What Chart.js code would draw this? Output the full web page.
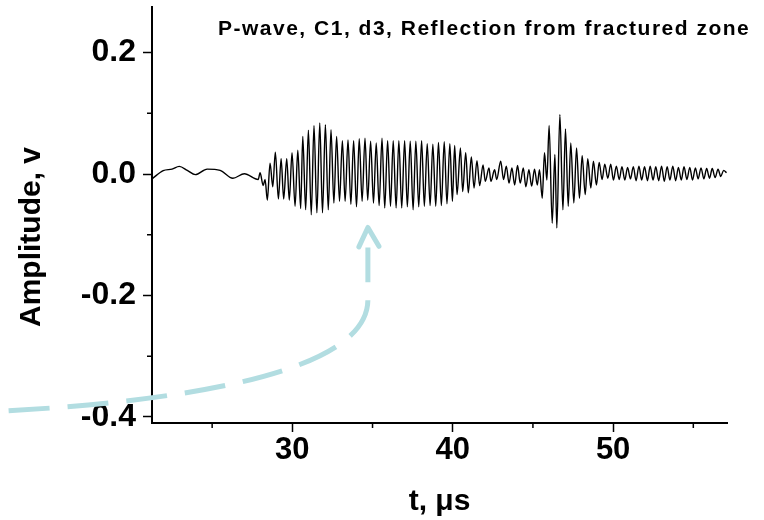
<!DOCTYPE html>
<html>
<head>
<meta charset="utf-8">
<script src="https://cdn.jsdelivr.net/npm/chart.js@4.4.1/dist/chart.umd.min.js"></script>
<style>
  html, body { margin: 0; padding: 0; background: #fff; }
  #wave { display: block; }
</style>
</head>
<body>
<canvas id="wave" width="764" height="520"></canvas>
<script>
// time in microseconds (peaks and troughs)
var timeUs = [
  21.25, 21.95, 22.50, 22.95, 23.45, 23.95, 24.69, 25.50, 26.29, 27.01,
  27.87, 27.99, 28.18, 28.30, 28.44, 28.61, 28.78, 28.94, 29.13, 29.30,
  29.46, 29.65, 29.81, 29.98, 30.17, 30.34, 30.52, 30.65, 30.83, 31.00,
  31.18, 31.35, 31.53, 31.71, 31.88, 32.06, 32.24, 32.41, 32.59, 32.76,
  32.94, 33.12, 33.29, 33.47, 33.65, 33.82, 34.00, 34.17, 34.35, 34.53,
  34.70, 34.88, 35.06, 35.23, 35.41, 35.59, 35.76, 35.94, 36.12, 36.29,
  36.47, 36.64, 36.82, 37.00, 37.17, 37.35, 37.53, 37.70, 37.88, 38.06,
  38.23, 38.41, 38.59, 38.76, 38.94, 39.11, 39.29, 39.47, 39.64, 39.82,
  39.98, 40.12, 40.27, 40.48, 40.62, 40.81, 40.97, 41.16, 41.33, 41.51,
  41.68, 41.89, 42.03, 42.26, 42.38, 42.61, 42.74, 42.99, 43.17, 43.34,
  43.51, 43.69, 43.86, 44.04, 44.21, 44.40, 44.56, 44.75, 44.92, 45.10,
  45.27, 45.41, 45.58, 45.72, 45.87, 46.01, 46.20, 46.37, 46.49, 46.68,
  46.87, 47.03, 47.20, 47.36, 47.55, 47.72, 47.90, 48.07, 48.26, 48.42,
  48.61, 48.77, 48.96, 49.13, 49.31, 49.48, 49.67, 49.85, 50.02, 50.20,
  50.38, 50.55, 50.73, 50.90, 51.08, 51.26, 51.43, 51.61, 51.78, 51.96,
  52.14, 52.31, 52.49, 52.66, 52.84, 53.02, 53.19, 53.37, 53.54, 53.72,
  53.90, 54.07, 54.25, 54.42, 54.60, 54.78, 54.95, 55.13, 55.30, 55.48,
  55.66, 55.83, 56.01, 56.18, 56.36, 56.54, 56.71, 56.89, 57.07
];
// amplitude in volts
var amplitudeV = [
  -0.008, 0.0055, 0.008, 0.0125, 0.006, -0.001, 0.008, 0.006, -0.007, 0.0005,
  -0.009, 0.002, -0.019, -0.009, -0.043, 0.018, -0.021, 0.036, -0.041, 0.025,
  -0.041, 0.025, -0.043, 0.035, -0.053, 0.039, -0.057, 0.062, -0.059, 0.072,
  -0.067, 0.080, -0.064, 0.084, -0.064, 0.081, -0.059, 0.073, -0.048, 0.062,
  -0.045, 0.055, -0.045, 0.056, -0.050, 0.055, -0.054, 0.058, -0.045, 0.059,
  -0.043, 0.054, -0.048, 0.051, -0.052, 0.059, -0.056, 0.055, -0.053, 0.055,
  -0.056, 0.055, -0.056, 0.055, -0.054, 0.054, -0.059, 0.054, -0.054, 0.055,
  -0.053, 0.050, -0.052, 0.049, -0.053, 0.052, -0.052, 0.053, -0.049, 0.050,
  -0.045, 0.047, -0.034, 0.043, -0.029, 0.035, -0.031, 0.028, -0.023, 0.022,
  -0.019, 0.015, -0.012, 0.010, -0.012, 0.007, -0.009, 0.021, -0.009, 0.013,
  -0.015, 0.010, -0.018, 0.014, -0.015, 0.010, -0.021, 0.007, -0.020, 0.008,
  -0.018, 0.007, -0.040, 0.035, -0.010, 0.080, -0.081, 0.032, -0.089, 0.098,
  -0.059, 0.074, -0.053, 0.051, -0.048, 0.043, -0.040, 0.030, -0.034, 0.025,
  -0.023, 0.021, -0.018, 0.019, -0.009, 0.016, -0.007, 0.016, -0.010, 0.013,
  -0.009, 0.012, -0.010, 0.011, -0.008, 0.012, -0.011, 0.013, -0.010, 0.012,
  -0.011, 0.013, -0.010, 0.012, -0.011, 0.013, -0.012, 0.012, -0.010, 0.013,
  -0.011, 0.011, -0.010, 0.012, -0.009, 0.011, -0.010, 0.010, -0.008, 0.010,
  -0.008, 0.009, -0.007, 0.009, -0.006, 0.008, -0.004, 0.006, 0.002
];

var xMajorTicks = [30, 40, 50];
var xMinorTicks = [25, 35, 45, 55];
var yMajorTicks = [-0.4, -0.2, 0, 0.2];
var yMinorTicks = [-0.3, -0.1, 0.1];

var plotTitle = 'P-wave, C1, d3, Reflection from fractured zone';
var xTitle = 't, \u03bcs';
var yTitle = 'Amplitude, v';

// the hand-drawn arrow, in data units [t, amplitude]
var arrowCurve = [[12.31, -0.390], [24.26, -0.3715], [34.71, -0.322], [34.71, -0.207]];
var arrowShaftTop = [34.71, -0.121];
var arrowHead = [[34.15, -0.120], [34.71, -0.088], [35.40, -0.119]];

var FONT = '"Liberation Sans", Arial, sans-serif';

var extras = {
  id: 'extras',
  afterDraw: function(chart) {
    var ctx = chart.ctx;
    var xs = chart.scales.x, ys = chart.scales.y, area = chart.chartArea;
    function px(p) { return [xs.getPixelForValue(p[0]), ys.getPixelForValue(p[1])]; }

    ctx.save();
    // minor ticks
    ctx.strokeStyle = '#000';
    ctx.lineWidth = 1.5;
    ctx.beginPath();
    yMinorTicks.forEach(function(v) {
      var y = ys.getPixelForValue(v);
      ctx.moveTo(area.left - 5, y);
      ctx.lineTo(area.left, y);
    });
    xMinorTicks.forEach(function(v) {
      var x = xs.getPixelForValue(v);
      ctx.moveTo(x, area.bottom);
      ctx.lineTo(x, area.bottom + 5);
    });
    ctx.stroke();

    // axis titles
    ctx.fillStyle = '#000';
    ctx.font = 'bold 30px ' + FONT;
    ctx.textAlign = 'center';
    ctx.textBaseline = 'alphabetic';
    ctx.fillText(xTitle, (area.left + area.right) / 2, 510);
    ctx.save();
    ctx.translate(40, 237);
    ctx.rotate(-Math.PI / 2);
    ctx.fillText(yTitle, 0, 0);
    ctx.restore();

    // plot title
    ctx.font = 'bold 21px ' + FONT;
    ctx.letterSpacing = '1.5px';
    ctx.textAlign = 'left';
    ctx.fillText(plotTitle, 218, 35);
    ctx.letterSpacing = '0px';

    // dashed arrow
    var p0 = px(arrowCurve[0]), c1 = px(arrowCurve[1]), c2 = px(arrowCurve[2]), p3 = px(arrowCurve[3]);
    var top = px(arrowShaftTop);
    ctx.strokeStyle = '#b2dde1';
    ctx.lineWidth = 5;
    ctx.setLineDash([41, 18]);
    ctx.beginPath();
    ctx.moveTo(p0[0], p0[1]);
    ctx.bezierCurveTo(c1[0], c1[1], c2[0], c2[1], p3[0], p3[1]);
    ctx.lineTo(top[0], top[1]);
    ctx.stroke();
    ctx.setLineDash([]);
    ctx.lineCap = 'round';
    ctx.lineJoin = 'round';
    ctx.beginPath();
    arrowHead.forEach(function(p, i) {
      var q = px(p);
      if (i === 0) ctx.moveTo(q[0], q[1]); else ctx.lineTo(q[0], q[1]);
    });
    ctx.stroke();
    ctx.restore();
  }
};

var points = timeUs.map(function(t, i) { return { x: t, y: amplitudeV[i] }; });

new Chart(document.getElementById('wave'), {
  type: 'line',
  data: {
    datasets: [{
      data: points,
      borderColor: '#000',
      borderWidth: 1.4,
      pointRadius: 0,
      fill: false,
      cubicInterpolationMode: 'monotone'
    }]
  },
  options: {
    responsive: false,
    animation: false,
    devicePixelRatio: 1,
    layout: { padding: { left: 0, right: 37, top: 7, bottom: 0 } },
    plugins: { legend: { display: false }, tooltip: { enabled: false } },
    scales: {
      x: {
        type: 'linear',
        min: 21.25,
        max: 57.1,
        afterBuildTicks: function(s) { s.ticks = xMajorTicks.map(function(v) { return { value: v }; }); },
        afterFit: function(s) { s.height = 97; s.paddingLeft = 0; s.paddingRight = 0; },
        ticks: {
          color: '#000',
          padding: 0,
          maxRotation: 0,
          font: { family: FONT, size: 31, weight: 'bold' },
          callback: function(v) { return String(v); }
        },
        grid: { display: true, drawOnChartArea: false, tickLength: 9, tickWidth: 1.5, tickColor: '#000' },
        border: { display: true, color: '#000', width: 2 }
      },
      y: {
        min: -0.41,
        max: 0.275,
        afterBuildTicks: function(s) { s.ticks = yMajorTicks.map(function(v) { return { value: v }; }); },
        afterFit: function(s) { s.width = 152; s.paddingTop = 0; s.paddingBottom = 0; },
        ticks: {
          color: '#000',
          padding: 7,
          font: { family: FONT, size: 32, weight: 'bold' },
          callback: function(v) { return v.toFixed(1); }
        },
        grid: { display: true, drawOnChartArea: false, tickLength: 9, tickWidth: 1.5, tickColor: '#000' },
        border: { display: true, color: '#000', width: 2 }
      }
    }
  },
  plugins: [extras]
});
</script>
</body>
</html>
